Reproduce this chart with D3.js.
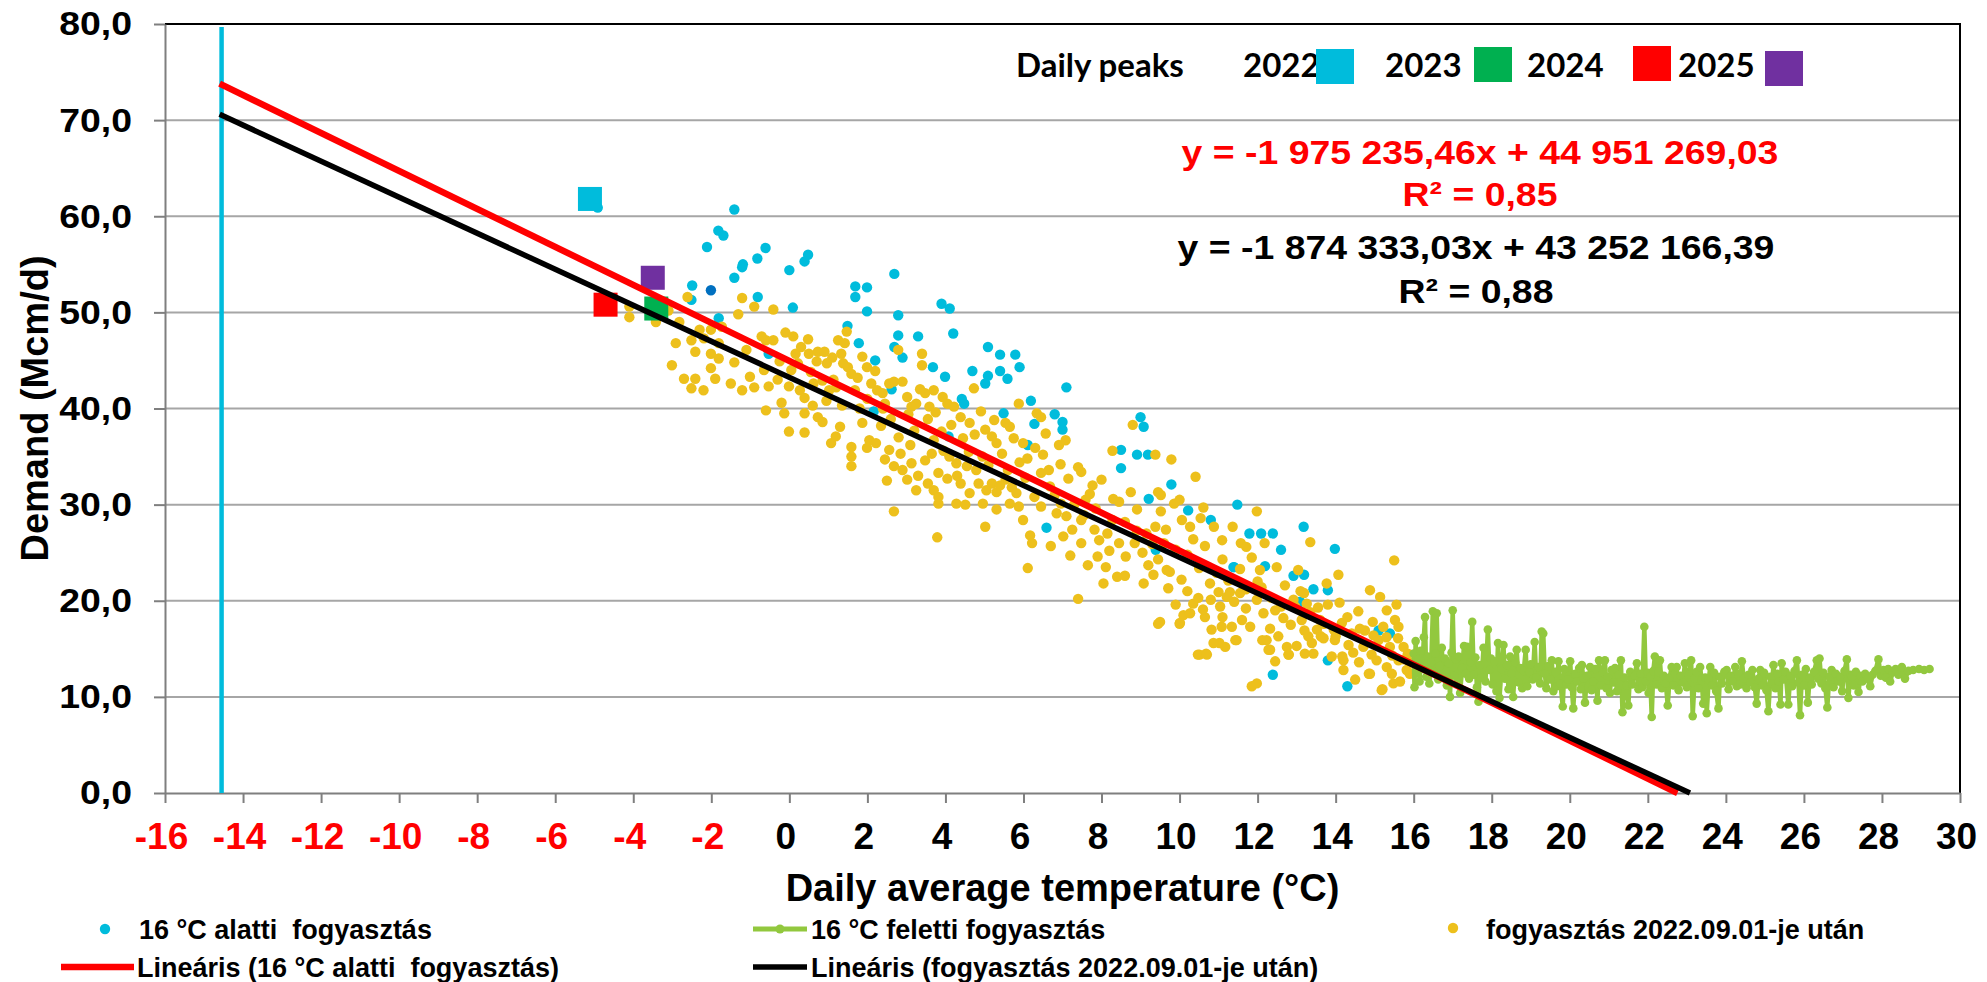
<!DOCTYPE html>
<html>
<head>
<meta charset="utf-8">
<script src="https://cdn.jsdelivr.net/npm/d3@7"></script>
<style>
  body { margin: 0; background: #fff; }
  text { font-family: 'Liberation Sans', Arial, sans-serif; font-weight: bold; }
</style>
</head>
<body>
<svg id="chart" width="1987" height="982"></svg>
<script>
const xTicks = [-16, -14, -12, -10, -8, -6, -4, -2, 0, 2, 4, 6, 8, 10, 12, 14, 16, 18, 20, 22, 24, 26, 28, 30]
const yTicks = [0, 10, 20, 30, 40, 50, 60, 70, 80]

// daily consumption below 16 °C (temperature, Mcm/d)
const coldPoints = [
  [-4.91, 60.9], [-1.41, 60.7], [-1.82, 58.5], [-1.69, 58.0], [-2.11, 56.8], [-0.61, 56.7], [-0.82, 55.6],
  [-1.19, 55.0], [-1.21, 54.7], [-1.41, 53.6], [0.48, 56.0], [0.39, 55.3], [0.0, 54.4], [-2.49, 52.8],
  [-2.51, 51.3], [-0.81, 51.6], [0.09, 50.5], [-1.81, 49.4], [1.69, 52.7], [1.99, 52.6], [1.69, 51.6],
  [1.99, 50.1], [2.69, 54.0], [2.79, 49.7], [1.49, 48.6], [2.79, 47.6], [3.3, 47.5], [1.78, 46.8],
  [3.9, 50.9], [4.11, 50.4], [4.2, 47.8], [2.69, 46.4], [2.9, 45.3], [2.2, 45.0], [3.68, 44.3],
  [5.09, 46.4], [5.4, 45.6], [5.79, 45.6], [5.9, 44.3], [5.4, 43.9], [5.59, 43.1], [4.69, 43.9],
  [5.09, 43.4], [5.02, 42.6], [3.99, 43.3], [7.1, 42.2], [4.42, 41.0], [4.48, 40.5], [6.19, 40.8],
  [6.8, 39.4], [7.0, 38.6], [7.0, 37.8], [6.28, 38.4], [5.49, 39.5], [9.0, 39.1], [9.08, 38.1],
  [6.11, 36.2], [8.5, 35.7], [8.91, 35.2], [9.19, 35.2], [8.5, 33.8], [9.79, 32.1], [9.21, 30.6],
  [10.22, 29.4], [11.48, 30.0], [6.59, 27.6], [9.39, 25.3], [10.8, 28.4], [11.4, 23.5], [-0.53, 45.7],
  [2.62, 42.0], [2.16, 39.7], [4.08, 37.1], [13.18, 27.7], [13.98, 25.4], [12.6, 25.3], [11.79, 27.0],
  [12.09, 27.0], [12.39, 27.0], [12.19, 23.6], [12.92, 22.6], [13.19, 22.7], [13.43, 21.2], [13.8, 21.1],
  [15.1, 16.9], [15.39, 16.6], [13.8, 13.8], [12.39, 12.3], [14.3, 11.1], [13.09, 19.9], [11.38, 23.5]
]

const todayPoint = [[-2.01, 52.3]]

// consumption after 2022.09.01
const recentPoints = [
  [-4.10, 50.6], [-4.10, 49.5], [-3.42, 49.0], [-3.42, 49.9], [-3.10, 50.2], [-2.82, 49.0], [-2.61, 51.6],
  [-2.91, 46.8], [-3.01, 44.5], [-2.70, 43.1], [-2.51, 42.1], [-2.41, 43.1], [-2.51, 47.1], [-2.41, 45.9],
  [-2.30, 48.2], [-2.19, 47.3], [-2.01, 48.2], [-2.01, 45.7], [-2.01, 44.2], [-1.81, 46.8], [-1.81, 45.2],
  [-1.73, 48.5], [-1.41, 44.8], [-1.31, 49.8], [-1.21, 51.5], [-1.21, 41.9], [-1.10, 46.1], [-1.01, 43.3],
  [-0.90, 50.6], [-0.90, 42.2], [-0.71, 47.5], [-0.60, 47.1], [-0.53, 42.3], [-0.41, 50.3], [-0.41, 47.1],
  [-0.30, 43.0], [-0.10, 47.9], [-0.01, 42.3], [0.10, 47.5], [0.16, 45.7], [0.22, 44.7], [0.27, 41.9],
  [0.39, 41.1], [0.48, 47.2], [0.50, 45.7], [0.62, 42.6], [0.73, 45.9], [0.90, 45.9], [0.96, 44.7],
  [1.02, 41.9], [1.13, 43.0], [1.25, 47.1], [1.33, 45.7], [1.42, 46.8], [1.47, 48.0], [1.38, 44.7],
  [1.59, 43.6], [1.68, 41.9], [1.87, 45.4], [1.99, 44.3], [2.10, 42.6], [2.25, 41.9], [2.39, 41.6],
  [2.45, 40.5], [2.56, 42.6], [2.68, 42.8], [2.79, 46.1], [3.02, 41.2], [3.13, 40.2], [3.25, 40.5],
  [3.40, 45.7], [3.40, 44.5], [3.48, 41.6], [3.59, 40.2], [3.70, 41.9], [3.93, 41.2], [4.05, 40.5],
  [4.22, 40.2], [4.39, 39.1], [4.62, 38.5], [4.73, 42.1], [4.91, 39.7], [5.02, 37.8], [5.19, 37.1],
  [5.31, 36.4], [5.54, 38.5], [5.65, 38.1], [5.88, 40.5], [5.99, 36.4], [6.34, 39.5], [6.45, 39.1],
  [6.57, 37.4], [6.91, 36.2], [7.08, 36.7], [8.28, 35.6], [8.80, 38.3], [7.48, 33.4], [-0.60, 39.8],
  [-0.13, 39.5], [0.39, 39.5], [-0.01, 37.6], [0.39, 37.5], [0.73, 39.1], [1.07, 36.4], [1.19, 37.1],
  [1.30, 38.1], [1.59, 36.0], [1.59, 35.0], [1.59, 34.0], [1.87, 38.5], [1.99, 35.9], [2.05, 36.7],
  [2.22, 36.4], [2.56, 35.7], [2.68, 34.0], [2.90, 33.6], [3.13, 34.3], [3.02, 32.6], [2.50, 32.5],
  [3.25, 31.5], [3.48, 34.6], [3.70, 36.7], [3.65, 35.3], [3.82, 33.3], [3.70, 31.5], [3.82, 30.1],
  [3.82, 30.8], [4.05, 32.7], [4.28, 34.3], [4.28, 30.1], [4.39, 32.2], [4.51, 30.0], [4.62, 31.2],
  [4.79, 33.6], [4.85, 32.2], [4.96, 30.1], [5.02, 27.7], [5.19, 32.2], [5.31, 31.3], [5.31, 29.5],
  [5.54, 32.6], [5.65, 30.1], [5.82, 31.2], [5.88, 29.8], [5.99, 28.4], [6.17, 26.8], [6.22, 26.0],
  [6.11, 23.4], [6.28, 30.8], [6.45, 29.8], [6.68, 31.9], [6.85, 29.1], [6.96, 30.1], [7.02, 26.7],
  [7.20, 24.7], [7.25, 27.4], [7.48, 26.0], [7.48, 28.4], [7.59, 30.5], [7.65, 23.7], [7.77, 32.0],
  [7.82, 27.4], [7.94, 26.3], [8.05, 21.8], [8.11, 23.5], [8.28, 28.4], [8.45, 30.3], [8.40, 22.5],
  [8.62, 24.6], [8.85, 26.0], [8.91, 29.5], [9.08, 21.8], [9.20, 23.7], [7.40, 20.2], [2.68, 29.3],
  [3.79, 26.6],
  [9.38, 35.2], [9.79, 34.7], [10.41, 32.9], [9.45, 31.3], [9.52, 31.0], [9.86, 30.1], [10.0, 30.5],
  [9.52, 29.3], [10.61, 29.7], [9.38, 27.7], [9.65, 27.4], [10.06, 28.4], [10.27, 27.7], [10.54, 28.6],
  [10.88, 27.7], [11.09, 26.3], [11.36, 27.7], [11.57, 26.0], [11.98, 29.3], [12.18, 26.0], [11.71, 25.6],
  [13.35, 26.1],
  [9.45, 17.6], [10.0, 17.6], [10.47, 14.4], [10.68, 14.5], [11.02, 15.6], [11.43, 15.9], [12.12, 15.9],
  [12.32, 14.9], [12.8, 14.4], [13.62, 16.3], [13.21, 14.5], [14.17, 14.2], [14.85, 12.4], [15.2, 10.8],
  [9.33, 22.7], [9.50, 17.8], [9.67, 23.2], [9.71, 21.3], [10.01, 17.7], [10.10, 18.5], [10.27, 18.7],
  [10.35, 19.7], [10.48, 20.3], [10.51, 14.4], [10.65, 18.3], [10.70, 14.4], [10.78, 21.8], [10.82, 17.0],
  [10.87, 15.6], [11.0, 20.9], [11.04, 19.4], [11.08, 17.3], [11.17, 15.2], [11.21, 20.4], [11.29, 20.9],
  [11.34, 17.3], [11.46, 15.9], [11.55, 20.8], [11.70, 19.2], [11.81, 17.3], [11.98, 20.1], [12.06, 23.2],
  [12.15, 18.7], [12.23, 15.9], [12.28, 14.9], [12.32, 17.1], [12.45, 19.0], [12.49, 23.5], [12.53, 16.3],
  [12.66, 18.2], [12.70, 21.6], [12.75, 15.2], [12.79, 14.4], [12.92, 20.1], [12.96, 19.4], [13.04, 23.2],
  [13.13, 18.0], [13.19, 20.8], [13.26, 19.7], [13.30, 16.3], [13.39, 15.6], [13.43, 14.5], [13.52, 17.0],
  [13.6, 18.0], [13.69, 16.1], [13.77, 21.8], [13.8, 19.6], [13.9, 14.2], [13.98, 15.9], [14.07, 22.7],
  [14.16, 17.7], [14.2, 13.8], [14.2, 12.8], [14.33, 15.4], [14.41, 16.6], [14.58, 18.9], [14.62, 17.1],
  [14.71, 15.2], [14.88, 21.1], [14.88, 12.4], [14.92, 14.4], [14.97, 16.4], [15.05, 13.8], [15.14, 20.4],
  [15.18, 10.7], [15.22, 17.3], [15.31, 19.0], [15.31, 13.1], [15.39, 15.2], [15.44, 12.4], [15.48, 11.4],
  [15.52, 18.0], [15.56, 19.6], [15.61, 17.3], [15.61, 13.8], [15.74, 15.2], [15.82, 12.8], [15.9, 12.4],
  [11.85, 11.1], [11.98, 11.4], [15.5, 24.2],
  [0.05, 44.0], [0.3, 46.4], [0.55, 43.8], [0.7, 44.9], [0.85, 42.9], [1.1, 45.3], [1.2, 42.2],
  [1.5, 44.3], [1.75, 43.2], [0.6, 40.3], [0.95, 40.8], [1.35, 40.3], [1.8, 40.0], [-0.25, 44.9],
  [-0.65, 44.0], [-1.5, 42.6], [-1.9, 43.1], [-2.2, 41.9], [-0.2, 40.6], [0.85, 38.6],
  [2.2, 43.9], [2.4, 40.0], [2.6, 38.9], [2.9, 42.8], [3.05, 39.4], [3.2, 37.7], [3.35, 42.0],
  [3.55, 38.9], [3.75, 39.6], [3.9, 37.6], [2.35, 38.2], [2.8, 37.0], [2.0, 41.0], [3.1, 36.2],
  [3.95, 35.6], [2.45, 34.7], [2.85, 35.3], [3.3, 33.0], [3.55, 32.2], [4.1, 35.0],
  [4.15, 38.3], [4.45, 36.9], [4.6, 35.5], [4.75, 37.3], [4.95, 35.0], [5.1, 34.1], [5.25, 38.8],
  [5.45, 35.3], [5.6, 33.6], [5.75, 36.9], [5.9, 34.4], [6.05, 32.8], [4.3, 33.0], [4.55, 34.0],
  [5.05, 31.5], [5.4, 32.0], [5.7, 31.8], [6.1, 34.8], [6.3, 35.9], [6.45, 33.3],
  [6.5, 35.2], [6.65, 33.6], [6.8, 31.0], [6.95, 34.2], [7.15, 32.7], [7.3, 30.0], [7.4, 33.9],
  [7.55, 28.9], [7.7, 31.1], [7.85, 29.6], [8.0, 32.6], [8.15, 27.0], [8.3, 30.6], [8.45, 26.0],
  [8.6, 28.2], [8.75, 31.3], [8.9, 27.3], [9.05, 25.0], [7.1, 28.8], [6.7, 25.7], [7.9, 24.6],
  [8.6, 22.6], [8.2, 25.2],
  [9.15, 27.0], [9.3, 25.9], [9.45, 24.3], [9.6, 26.0], [9.75, 23.0], [9.9, 25.3], [10.05, 22.2],
  [10.2, 24.8], [10.35, 26.4], [10.5, 23.4], [10.65, 25.7], [10.8, 20.1], [10.95, 22.9], [11.1, 24.3],
  [11.25, 22.1], [11.4, 19.9], [11.55, 23.3], [11.7, 21.2], [11.85, 24.5], [12.0, 22.0], [9.9, 19.6],
  [10.2, 21.0], [10.6, 19.1], [11.1, 18.3], [11.6, 18.0],
  [12.1, 21.4], [12.35, 20.3], [12.6, 19.4], [12.85, 17.5], [13.1, 21.0], [13.35, 18.8], [13.55, 19.3],
  [13.7, 17.6], [13.95, 17.0], [14.1, 19.8], [14.3, 18.3], [14.45, 14.6], [14.6, 13.6], [14.75, 16.9],
  [14.95, 17.8], [15.1, 15.9], [15.3, 16.2], [15.45, 14.3], [15.6, 16.1], [15.75, 13.9], [15.85, 14.5],
  [14.0, 16.3], [13.2, 16.9], [12.45, 13.7], [13.0, 15.3], [14.5, 11.8], [15.65, 11.6], [15.9, 13.6]
]

// consumption above 16 °C, ordered by temperature
const warmPoints = [
  [16.00, 14.5], [16.02, 11.0], [16.05, 15.8], [16.08, 12.5], [16.12, 13.9], [16.15, 11.6], [16.18, 14.8],
  [16.22, 12.9], [16.26, 16.2], [16.29, 18.3], [16.32, 12.1], [16.36, 14.2], [16.40, 11.4], [16.45, 13.6],
  [16.49, 18.9], [16.52, 12.6], [16.56, 14.5], [16.59, 18.7], [16.63, 11.8], [16.67, 13.2], [16.72, 15.1],
  [16.76, 12.0], [16.80, 14.0], [16.85, 11.2], [16.90, 13.5], [16.93, 10.0], [16.97, 14.6], [17.00, 19.0],
  [17.04, 12.2], [17.08, 13.9], [17.12, 11.5], [17.15, 14.2], [17.19, 10.4], [17.24, 13.0], [17.29, 15.3],
  [17.33, 12.4], [17.37, 15.2], [17.42, 11.9], [17.46, 13.6], [17.50, 17.8], [17.54, 12.3], [17.58, 14.1],
  [17.62, 11.0], [17.66, 9.5], [17.70, 13.3], [17.74, 12.0], [17.79, 15.1], [17.84, 11.6], [17.90, 17.0],
  [17.94, 12.8], [17.98, 14.0], [18.02, 11.3], [18.07, 13.7], [18.12, 10.6], [18.16, 15.6], [18.20, 9.9],
  [18.25, 12.9], [18.30, 15.4], [18.34, 11.9], [18.39, 13.3], [18.43, 10.8], [18.47, 14.2], [18.51, 12.4],
  [18.55, 10.0], [18.60, 13.6], [18.64, 14.9], [18.69, 11.5], [18.73, 13.0], [18.78, 10.9], [18.82, 12.7],
  [18.87, 14.9], [18.91, 11.1], [18.96, 12.6], [19.00, 13.4], [19.05, 11.8], [19.10, 15.7], [19.14, 12.0],
  [19.19, 13.1], [19.24, 11.4], [19.28, 16.8], [19.32, 16.6], [19.36, 12.4], [19.40, 10.9], [19.45, 13.2],
  [19.50, 11.8], [19.54, 13.8], [19.58, 10.6], [19.63, 12.6], [19.67, 11.1], [19.71, 13.7], [19.76, 11.4],
  [19.82, 9.0], [19.86, 12.9], [19.91, 11.3], [19.96, 11.8], [20.01, 13.7], [20.05, 11.0], [20.09, 8.8],
  [20.14, 12.4], [20.19, 11.6], [20.24, 13.0], [20.28, 10.8], [20.31, 13.3], [20.35, 11.9], [20.39, 9.4],
  [20.44, 12.2], [20.48, 11.0], [20.52, 13.1], [20.56, 10.7], [20.60, 11.6], [20.65, 12.9], [20.71, 9.6],
  [20.75, 13.8], [20.80, 11.2], [20.85, 12.5], [20.90, 13.8], [20.94, 10.9], [20.98, 12.1], [21.03, 10.4],
  [21.07, 12.8], [21.12, 11.5], [21.16, 13.0], [21.21, 10.6], [21.26, 12.3], [21.31, 13.8], [21.35, 8.4],
  [21.40, 12.0], [21.45, 11.2], [21.50, 9.1], [21.55, 12.6], [21.60, 11.3], [21.66, 12.2], [21.72, 13.5],
  [21.76, 10.8], [21.81, 12.4], [21.86, 11.0], [21.91, 17.3], [21.95, 11.6], [22.00, 12.5], [22.02, 10.4],
  [22.06, 12.1], [22.10, 7.9], [22.14, 12.7], [22.18, 14.2], [22.22, 11.3], [22.27, 12.6], [22.31, 13.8],
  [22.36, 10.9], [22.41, 12.2], [22.46, 11.4], [22.51, 9.1], [22.56, 12.0], [22.61, 13.1], [22.66, 11.2],
  [22.70, 12.4], [22.74, 13.1], [22.79, 10.7], [22.84, 12.2], [22.90, 11.5], [22.95, 13.5], [23.00, 11.0],
  [23.05, 12.3], [23.11, 13.8], [23.15, 8.0], [23.20, 11.9], [23.25, 12.6], [23.30, 10.9], [23.34, 13.1],
  [23.38, 11.7], [23.42, 9.3], [23.47, 12.0], [23.51, 8.3], [23.56, 11.8], [23.60, 13.1], [23.65, 11.2],
  [23.70, 12.5], [23.75, 10.6], [23.81, 8.8], [23.85, 12.1], [23.90, 11.4], [23.96, 12.6], [24.02, 12.8],
  [24.07, 10.8], [24.12, 12.2], [24.18, 11.6], [24.24, 13.1], [24.28, 11.1], [24.33, 12.4], [24.37, 11.3],
  [24.41, 13.7], [24.46, 11.9], [24.53, 10.9], [24.58, 12.3], [24.63, 11.5], [24.68, 12.8], [24.74, 11.0],
  [24.79, 9.3], [24.84, 11.9], [24.88, 12.8], [24.93, 11.2], [24.98, 12.5], [25.04, 10.7], [25.09, 8.5],
  [25.14, 12.1], [25.18, 11.4], [25.22, 13.3], [25.27, 10.9], [25.32, 12.4], [25.36, 11.6], [25.40, 9.2],
  [25.43, 13.5], [25.48, 11.8], [25.53, 12.6], [25.60, 9.2], [25.65, 12.2], [25.70, 11.1], [25.76, 12.7],
  [25.82, 13.8], [25.86, 11.5], [25.90, 8.1], [25.95, 12.3], [26.00, 11.2], [26.05, 12.9], [26.10, 9.4],
  [26.15, 12.0], [26.20, 11.3], [26.26, 12.6], [26.33, 13.8], [26.37, 11.9], [26.40, 14.0], [26.45, 11.4],
  [26.50, 12.5], [26.55, 10.9], [26.60, 8.9], [26.65, 12.1], [26.71, 12.8], [26.76, 11.0], [26.82, 12.4],
  [26.88, 11.6], [26.93, 12.1], [26.98, 10.6], [27.04, 12.7], [27.10, 13.9], [27.14, 9.9], [27.19, 12.3],
  [27.23, 12.1], [27.28, 11.2], [27.33, 12.6], [27.40, 10.5], [27.45, 12.2], [27.50, 11.6], [27.57, 12.4],
  [27.63, 11.9], [27.70, 11.1], [27.76, 12.3], [27.83, 12.7], [27.91, 13.9], [27.97, 12.2], [28.04, 12.8],
  [28.10, 12.0], [28.16, 12.9], [28.21, 11.6], [28.28, 12.6], [28.35, 12.9], [28.42, 12.3], [28.51, 13.1],
  [28.59, 11.9], [28.68, 12.7], [28.80, 12.8], [28.95, 12.9], [29.08, 12.8], [29.22, 12.9]
]

const coldLine = [[-14.55, 0], [-14.55, 79.7]]
const redTrend = [[-14.6, 73.8], [22.76, 0]]
const blackTrend = [[-14.6, 70.6], [23.08, 0]]

const peakYears = ['2022', '2023', '2024', '2025']
const peakTemps = [-5.11, -3.41, -4.71, -3.50]
const peakDemand = [61.8, 50.4, 50.8, 53.6]

const redEquation = ['y = -1 975 235,46x + 44 951 269,03', 'R² = 0,85']
const blackEquation = ['y = -1 874 333,03x + 43 252 166,39', 'R² = 0,88']

const seriesNames = [
  '16 °C alatti  fogyasztás',
  '16 °C feletti fogyasztás',
  'fogyasztás 2022.09.01-je után',
  'Lineáris (16 °C alatti  fogyasztás)',
  'Lineáris (fogyasztás 2022.09.01-je után)'
]

const cyan = '#00BCDC'
const gold = '#EDC01C'
const green = '#92C83E'
const peakColors = ['#00BCDC', '#00B050', '#FF0000', '#7030A0']

const svg = d3.select('#chart')

const plotLeft = 165
const plotRight = 1960
const plotTop = 24
const plotBottom = 793

const x = d3.scaleLinear().domain([-16, 30]).range([plotLeft, plotRight])
const y = d3.scaleLinear().domain([0, 80]).range([plotBottom, plotTop])

svg.append('rect')
  .attr('width', 1987)
  .attr('height', 982)
  .attr('fill', '#fff')

// gridlines
svg.append('g')
  .selectAll('line')
  .data(yTicks.filter(d => d > 0 && d < 80))
  .enter()
  .append('line')
  .attr('x1', plotLeft)
  .attr('x2', plotRight)
  .attr('y1', d => y(d))
  .attr('y2', d => y(d))
  .attr('stroke', '#A6A6A6')
  .attr('stroke-width', 2)

// plot border (top, right)
svg.append('path')
  .attr('d', 'M' + plotLeft + ',' + plotTop + 'H' + plotRight + 'V' + plotBottom)
  .attr('fill', 'none')
  .attr('stroke', '#000')
  .attr('stroke-width', 2)

const locale = d3.formatLocale({ decimal: ',', thousands: ' ', grouping: [3], currency: ['', ''] })

const yAxis = svg.append('g')
  .attr('transform', 'translate(' + plotLeft + ',0)')
  .call(d3.axisLeft(y).tickValues(yTicks).tickFormat(locale.format('.1f'))
    .tickSize(11).tickSizeOuter(0).tickPadding(22))
yAxis.select('.domain').attr('stroke', '#7F7F7F').attr('stroke-width', 2)
yAxis.selectAll('.tick line').attr('stroke', '#7F7F7F').attr('stroke-width', 2)
yAxis.selectAll('text')
  .attr('font-size', 34)
  .attr('fill', '#000')
  .attr('x', -33 / 1.1)
  .attr('transform', 'scale(1.1,1)')

const xAxis = svg.append('g')
  .attr('transform', 'translate(0,' + plotBottom + ')')
  .call(d3.axisBottom(x).tickValues(xTicks).tickFormat(d => String(d))
    .tickSize(10).tickSizeOuter(0).tickPadding(20))
xAxis.select('.domain').attr('stroke', '#7F7F7F').attr('stroke-width', 2)
xAxis.selectAll('.tick line').attr('stroke', '#7F7F7F').attr('stroke-width', 2)
xAxis.selectAll('text')
  .attr('font-size', 37)
  .attr('dx', -4)
  .attr('fill', d => d < 0 ? '#FF0000' : '#000')

// axis titles
svg.append('text')
  .attr('x', (plotLeft + plotRight) / 2)
  .attr('y', 901)
  .attr('text-anchor', 'middle')
  .attr('font-size', 38)
  .text('Daily average temperature (°C)')

svg.append('text')
  .attr('transform', 'translate(48,' + (plotTop + plotBottom) / 2 + ') rotate(-90)')
  .attr('text-anchor', 'middle')
  .attr('font-size', 38)
  .text('Demand (Mcm/d)')

const line = d3.line()
  .x(d => x(d[0]))
  .y(d => y(d[1]))

// vertical marker line
svg.append('path')
  .datum(coldLine)
  .attr('d', line)
  .attr('stroke', cyan)
  .attr('stroke-width', 4.5)
  .attr('fill', 'none')

svg.append('g')
  .selectAll('circle')
  .data(coldPoints)
  .enter()
  .append('circle')
  .attr('cx', d => x(d[0]))
  .attr('cy', d => y(d[1]))
  .attr('r', 5.2)
  .attr('fill', cyan)

svg.append('g')
  .selectAll('circle')
  .data(todayPoint)
  .enter()
  .append('circle')
  .attr('cx', d => x(d[0]))
  .attr('cy', d => y(d[1]))
  .attr('r', 5.2)
  .attr('fill', '#0070C0')

svg.append('g')
  .selectAll('circle')
  .data(recentPoints)
  .enter()
  .append('circle')
  .attr('cx', d => x(d[0]))
  .attr('cy', d => y(d[1]))
  .attr('r', 5.2)
  .attr('fill', gold)

const warm = svg.append('g')
warm.append('path')
  .datum(warmPoints)
  .attr('d', line)
  .attr('fill', 'none')
  .attr('stroke', green)
  .attr('stroke-width', 4.5)
  .attr('stroke-linejoin', 'round')
warm.selectAll('circle')
  .data(warmPoints)
  .enter()
  .append('circle')
  .attr('cx', d => x(d[0]))
  .attr('cy', d => y(d[1]))
  .attr('r', 4.3)
  .attr('fill', green)

// daily peaks
svg.append('g')
  .selectAll('rect')
  .data(peakYears)
  .enter()
  .append('rect')
  .attr('x', (d, i) => x(peakTemps[i]) - 12)
  .attr('y', (d, i) => y(peakDemand[i]) - 12)
  .attr('width', 24)
  .attr('height', 24)
  .attr('fill', (d, i) => peakColors[i])

// trend lines
svg.append('path')
  .datum(redTrend)
  .attr('d', line)
  .attr('stroke', '#FF0000')
  .attr('stroke-width', 6.5)
  .attr('fill', 'none')

svg.append('path')
  .datum(blackTrend)
  .attr('d', line)
  .attr('stroke', '#000')
  .attr('stroke-width', 5.5)
  .attr('fill', 'none')

// peaks legend
const peaksLegend = svg.append('g')
  .attr('font-size', 33)
peaksLegend.append('text')
  .attr('x', 1016)
  .attr('y', 77)
  .style('font-family', 'Lato, sans-serif')
  .text('Daily peaks')
const yearX = [1243, 1385, 1527, 1678]
const boxX = [1316, 1474, 1633, 1765]
const boxY = [49, 47, 46, 51]
peaksLegend.selectAll('.year')
  .data(peakYears)
  .enter()
  .append('text')
  .attr('class', 'year')
  .attr('x', (d, i) => yearX[i])
  .attr('y', 77)
  .style('font-family', 'Lato, sans-serif')
  .text(d => d)
peaksLegend.selectAll('rect')
  .data(peakYears)
  .enter()
  .append('rect')
  .attr('x', (d, i) => boxX[i])
  .attr('y', (d, i) => boxY[i])
  .attr('width', 38)
  .attr('height', 35)
  .attr('fill', (d, i) => peakColors[i])

// regression equations
function equation (lines, color, cx, baselines) {
  lines.forEach((t, i) => {
    svg.append('text')
      .attr('transform', 'translate(' + cx + ',' + baselines[i] + ') scale(1.1,1)')
      .attr('text-anchor', 'middle')
      .attr('font-size', 34)
      .attr('fill', color)
      .text(t)
  })
}
equation(redEquation, '#FF0000', 1480, [164, 206])
equation(blackEquation, '#000', 1476, [259, 303])

// bottom legend
const legend = svg.append('g')
  .attr('font-size', 27)

legend.append('circle').attr('cx', 105).attr('cy', 929).attr('r', 5.2).attr('fill', cyan)
legend.append('line').attr('x1', 753).attr('x2', 807).attr('y1', 929).attr('y2', 929)
  .attr('stroke', green).attr('stroke-width', 5)
legend.append('circle').attr('cx', 780).attr('cy', 929).attr('r', 4.5).attr('fill', green)
legend.append('circle').attr('cx', 1453).attr('cy', 928).attr('r', 5.2).attr('fill', gold)
legend.append('line').attr('x1', 61).attr('x2', 134).attr('y1', 967).attr('y2', 967)
  .attr('stroke', '#FF0000').attr('stroke-width', 6.5)
legend.append('line').attr('x1', 753).attr('x2', 807).attr('y1', 967).attr('y2', 967)
  .attr('stroke', '#000').attr('stroke-width', 5.5)

const legendX = [139, 811, 1486, 137, 811]
const legendY = [939, 939, 939, 977, 977]
legend.selectAll('text')
  .data(seriesNames)
  .enter()
  .append('text')
  .attr('x', (d, i) => legendX[i])
  .attr('y', (d, i) => legendY[i])
  .style('white-space', 'pre')
  .text(d => d)
</script>
</body>
</html>
